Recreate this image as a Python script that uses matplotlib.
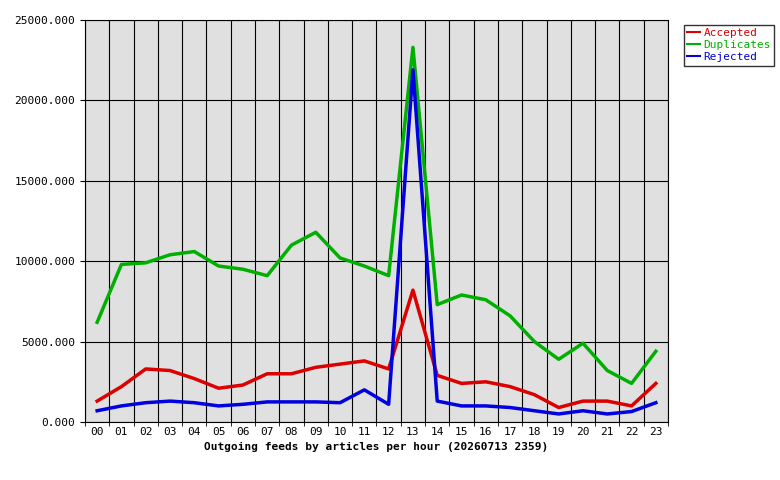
import matplotlib
matplotlib.use("Agg")
import matplotlib.pyplot as plt
import numpy as np

hours = ["%02d" % h for h in range(24)]
accepted = [1300, 2200, 3300, 3200, 2700, 2100, 2300, 3000, 3000, 3400, 3600, 3800, 3300, 8200, 2900, 2400, 2500, 2200, 1700, 900, 1300, 1300, 1000, 2400]
duplicates = [6200, 9800, 9900, 10400, 10600, 9700, 9500, 9100, 11000, 11800, 10200, 9700, 9100, 23300, 7300, 7900, 7600, 6600, 5000, 3900, 4900, 3200, 2400, 4400]
rejected = [700, 1000, 1200, 1300, 1200, 1000, 1100, 1250, 1250, 1250, 1200, 2000, 1100, 21900, 1300, 1000, 1000, 900, 700, 500, 700, 500, 650, 1200]

plt.rcParams['font.family'] = 'DejaVu Sans Mono'
fig = plt.figure(figsize=(7.8, 4.8), dpi=100)
ax = fig.add_axes([85/780, 1-422/480, 583/780, 402/480])
ax.set_facecolor('#e0e0e0')
x = np.arange(24)
ax.plot(x, accepted, color='#dd0000', lw=2.5, label='Accepted')
ax.plot(x, duplicates, color='#00b000', lw=2.5, label='Duplicates')
ax.plot(x, rejected, color='#0000e0', lw=2.5, label='Rejected')
ax.set_xlim(-0.5, 23.5)
ax.set_ylim(0, 25000)
ax.set_xticks(x)
ax.set_xticklabels(hours, fontsize=8)
ax.set_xticks(np.arange(-0.5, 24, 1), minor=True)
ax.set_yticks(np.arange(0, 25001, 5000))
ax.set_yticklabels(["%.3f" % v for v in range(0, 25001, 5000)], fontsize=8)
ax.grid(True, which='minor', axis='x', color='black', lw=0.8)
ax.grid(True, which='major', axis='y', color='black', lw=0.8)
ax.tick_params(which='major', axis='x', length=0)
ax.tick_params(which='minor', length=3)
ax.set_xlabel('Outgoing feeds by articles per hour (20260713 2359)', fontsize=8, fontweight='bold', labelpad=4)
leg = fig.legend(loc='upper left', bbox_to_anchor=(678/780, 1-19/480), fontsize=8,
                 frameon=True, fancybox=False, edgecolor='black', handlelength=1.2,
                 borderpad=0.3, labelspacing=0.2, handletextpad=0.3)
for t, c in zip(leg.get_texts(), ['#dd0000', '#00b000', '#0000e0']):
    t.set_color(c)
for l in leg.get_lines():
    l.set_linewidth(1.5)
fig.savefig('out.png', dpi=100)
